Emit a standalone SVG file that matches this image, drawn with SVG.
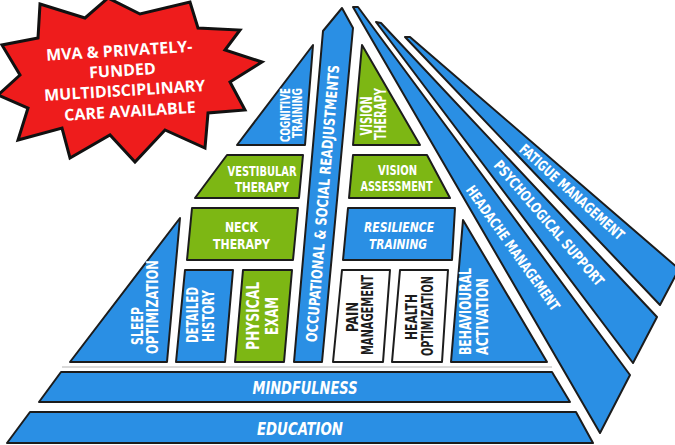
<svg xmlns="http://www.w3.org/2000/svg" width="675" height="445" viewBox="0 0 675 445">
<style>
.b{fill:#2a8fe4;stroke:#1c1c1c;stroke-width:2;stroke-linejoin:round}
.g{fill:#7db714;stroke:#1c1c1c;stroke-width:2;stroke-linejoin:round}
.w{fill:#ffffff;stroke:#1c1c1c;stroke-width:2;stroke-linejoin:round}
.t{font-family:"DejaVu Sans Condensed","DejaVu Sans",sans-serif;font-weight:bold;fill:#ffffff;text-anchor:middle}
.k{fill:#1c1c1c}
.i{font-style:italic}
.s{font-family:"Open Sans","Liberation Sans",sans-serif;font-weight:bold;fill:#ffffff;font-size:16px;text-anchor:middle}
</style>
<rect width="675" height="445" fill="#ffffff"/>
<line x1="62" y1="367" x2="552" y2="367" stroke="#cccccc" stroke-width="1.5"/>
<g id="connectors"/>
<g id="fatigue"><polygon class="b" points="405,37 410,37 679,269 660,305"/>
<text class="t" font-size="14.5" textLength="135" lengthAdjust="spacingAndGlyphs" transform="translate(572,192) rotate(42)" y="5.2">FATIGUE MANAGEMENT</text></g>
<g id="psych"><polygon class="b" points="376,22 381,23 657,317 633,363"/>
<text class="t" font-size="14.5" textLength="160" lengthAdjust="spacingAndGlyphs" transform="translate(549,223) rotate(49.3)" y="5.2">PSYCHOLOGICAL SUPPORT</text></g>
<g id="headache"><polygon class="b" points="353,7 358,7 630,375 600,433"/>
<text class="t" font-size="14.5" textLength="150" lengthAdjust="spacingAndGlyphs" transform="translate(513,248) rotate(54.5)" y="5.2">HEADACHE MANAGEMENT</text></g>
<g id="education"><polygon class="b" points="30,412 576,412 593,443 7,443"/>
<text class="t i" font-size="18" x="300" y="435" textLength="86" lengthAdjust="spacingAndGlyphs">EDUCATION</text></g>
<g id="mindfulness"><polygon class="b" points="61,372 552,372 570,402 39,402"/>
<text class="t i" font-size="18" x="305" y="394" textLength="105" lengthAdjust="spacingAndGlyphs">MINDFULNESS</text></g>
<g id="occupational"><polygon class="b" points="342,8 353,28 322,362 294,362 323,31"/>
<text class="t" font-size="15" textLength="278" lengthAdjust="spacingAndGlyphs" transform="translate(322.5,203.5) rotate(-85.3)" y="5.4">OCCUPATIONAL &amp; SOCIAL READJUSTMENTS</text></g>
<g id="cognitive"><polygon class="b" points="313,45 305,145 237,145"/>
<text class="t" font-size="13.5" textLength="54" lengthAdjust="spacingAndGlyphs" transform="translate(285.5,115) rotate(-90)" y="4.9">COGNITIVE</text>
<text class="t" font-size="13.5" textLength="50" lengthAdjust="spacingAndGlyphs" transform="translate(297.5,113) rotate(-90)" y="4.9">TRAINING</text></g>
<g id="vestibular"><polygon class="g" points="227,155 303,155 299,198 195,198"/>
<text class="t" font-size="14" x="262" y="176" textLength="69" lengthAdjust="spacingAndGlyphs">VESTIBULAR</text>
<text class="t" font-size="14" x="262" y="192" textLength="54" lengthAdjust="spacingAndGlyphs">THERAPY</text></g>
<g id="neck"><polygon class="g" points="192,208 298,208 293,260 187,260"/>
<text class="t" font-size="14" x="241.5" y="232" textLength="33" lengthAdjust="spacingAndGlyphs">NECK</text>
<text class="t" font-size="14" x="241.5" y="248.5" textLength="57" lengthAdjust="spacingAndGlyphs">THERAPY</text></g>
<g id="sleep"><polygon class="b" points="180,218 167,362 70,362"/>
<text class="t" font-size="15" textLength="38" lengthAdjust="spacingAndGlyphs" transform="translate(137.5,326) rotate(-90)" y="5.4">SLEEP</text>
<text class="t" font-size="15" textLength="94" lengthAdjust="spacingAndGlyphs" transform="translate(152.5,307) rotate(-90)" y="5.4">OPTIMIZATION</text></g>
<g id="history"><polygon class="b" points="185,270 233,270 225,362 176,362"/>
<text class="t" font-size="15" textLength="56" lengthAdjust="spacingAndGlyphs" transform="translate(192.5,315) rotate(-90)" y="5.4">DETAILED</text>
<text class="t" font-size="15" textLength="52" lengthAdjust="spacingAndGlyphs" transform="translate(209,316) rotate(-90)" y="5.4">HISTORY</text></g>
<g id="physical"><polygon class="g" points="243,270 292,270 284,362 235,362"/>
<text class="t" font-size="17" textLength="68" lengthAdjust="spacingAndGlyphs" transform="translate(252.5,316) rotate(-90)" y="6.2">PHYSICAL</text>
<text class="t" font-size="17" textLength="38" lengthAdjust="spacingAndGlyphs" transform="translate(271.5,316) rotate(-90)" y="6.2">EXAM</text></g>
<g id="visiontherapy"><polygon class="g" points="362,45 420,145 353,145"/>
<text class="t" font-size="15.5" textLength="39" lengthAdjust="spacingAndGlyphs" transform="translate(366,116) rotate(-90)" y="5.6">VISION</text>
<text class="t" font-size="15.5" textLength="52" lengthAdjust="spacingAndGlyphs" transform="translate(380,114) rotate(-90)" y="5.6">THERAPY</text></g>
<g id="visionassessment"><polygon class="g" points="353,155 427,155 450,198 349,198"/>
<text class="t" font-size="14" x="397.5" y="175" textLength="39" lengthAdjust="spacingAndGlyphs">VISION</text>
<text class="t" font-size="14" x="396.5" y="191" textLength="72" lengthAdjust="spacingAndGlyphs">ASSESSMENT</text></g>
<g id="resilience"><polygon class="b" points="348,208 455,208 452,260 343,260"/>
<text class="t i" font-size="14" x="399" y="231.5" textLength="70" lengthAdjust="spacingAndGlyphs">RESILIENCE</text>
<text class="t i" font-size="14" x="398" y="248.5" textLength="58" lengthAdjust="spacingAndGlyphs">TRAINING</text></g>
<g id="pain"><polygon class="w" points="342,270 390,270 383,362 333,362"/>
<text class="t k" font-size="15" textLength="30" lengthAdjust="spacingAndGlyphs" transform="translate(353,317) rotate(-90)" y="5.4">PAIN</text>
<text class="t k" font-size="15" textLength="80" lengthAdjust="spacingAndGlyphs" transform="translate(368,315) rotate(-90)" y="5.4">MANAGEMENT</text></g>
<g id="health"><polygon class="w" points="400,270 448,270 442,362 392,362"/>
<text class="t k" font-size="15.5" textLength="46" lengthAdjust="spacingAndGlyphs" transform="translate(411,317) rotate(-90)" y="5.6">HEALTH</text>
<text class="t k" font-size="15.5" textLength="80" lengthAdjust="spacingAndGlyphs" transform="translate(427,316) rotate(-90)" y="5.6">OPTIMIZATION</text></g>
<g id="behavioural"><polygon class="b" points="463,220 547,362 451,362"/>
<text class="t" font-size="16.5" textLength="87" lengthAdjust="spacingAndGlyphs" transform="translate(465,311.5) rotate(-90)" y="6">BEHAVIOURAL</text>
<text class="t" font-size="16.5" textLength="77" lengthAdjust="spacingAndGlyphs" transform="translate(482,316.5) rotate(-90)" y="6">ACTIVATION</text></g>
<g id="starburst">
<polygon fill="#ee1c1c" stroke="#111111" stroke-width="3" stroke-linejoin="miter" points="40,4 85,18 108,-2 140,14 190,2 198,28 240,30 225,50 262,62 230,82 245,110 208,113 205,148 165,130 135,162 110,135 70,158 62,128 18,140 28,108 -2,95 20,75 2,45 38,38"/>
<g transform="rotate(-3.5 125 80)">
<text class="s" x="121" y="56">MVA &amp; PRIVATELY-</text>
<text class="s" x="123" y="76">FUNDED</text>
<text class="s" x="124" y="96">MULTIDISCIPLINARY</text>
<text class="s" x="128" y="117">CARE AVAILABLE</text>
</g>
</g>
</svg>
